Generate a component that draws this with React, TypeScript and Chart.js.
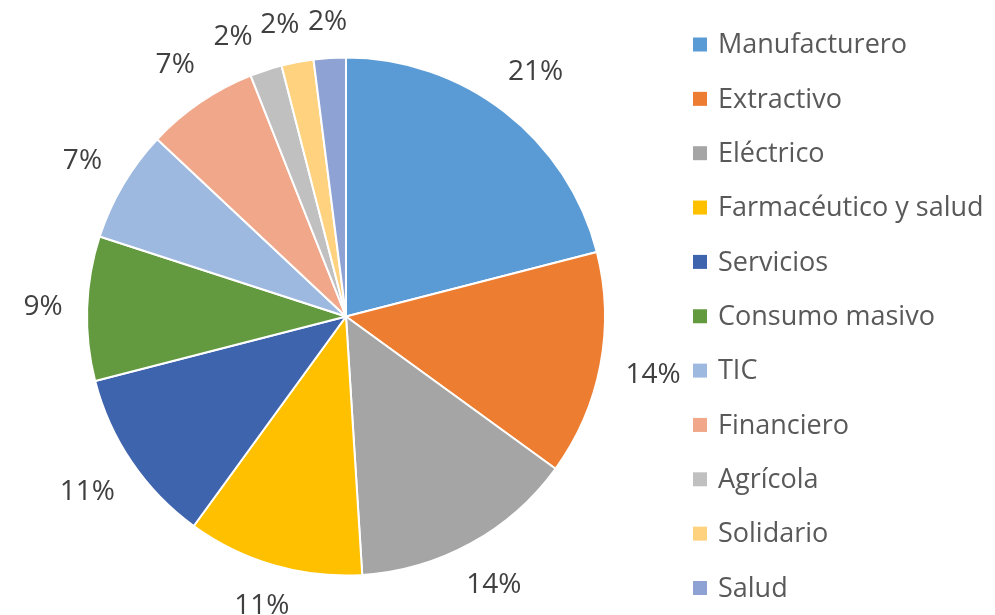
import React, { useEffect, useRef } from "react";
import { Chart, registerables } from "chart.js";

Chart.register(...registerables);

const categories = [
  "Manufacturero",
  "Extractivo",
  "Eléctrico",
  "Farmacéutico y salud",
  "Servicios",
  "Consumo masivo",
  "TIC",
  "Financiero",
  "Agrícola",
  "Solidario",
  "Salud",
];
const values = [21, 14, 14, 11, 11, 9, 7, 7, 2, 2, 2];
const colors = [
  "#5B9BD5",
  "#ED7D31",
  "#A5A5A5",
  "#FFC000",
  "#3F64AE",
  "#649A3F",
  "#9DB9E0",
  "#F1A78A",
  "#C0C0C0",
  "#FFD280",
  "#8FA2D4",
];

const FONT = '"Open Sans", sans-serif';

const labelPlugin = {
  id: "outsideLabels",
  afterDraw(chart: any) {
    const ctx = chart.ctx;
    const meta = chart.getDatasetMeta(0);
    const data = chart.data.datasets[0].data as number[];
    const total = data.reduce((a, b) => a + b, 0);
    ctx.save();
    ctx.font = `28px ${FONT}`;
    ctx.fillStyle = "#404040";
    ctx.textAlign = "center";
    ctx.textBaseline = "middle";
    const hh = 13;
    const items = meta.data.map((el: any, i: number) => {
      const p = el.getProps(["x", "y", "startAngle", "endAngle", "outerRadius"], true);
      const txt = Math.round((data[i] / total) * 100) + "%";
      const w = ctx.measureText(txt).width;
      return { p, txt, w, ang: (p.startAngle + p.endAngle) / 2, x: 0, y: 0 };
    });
    const place = (it: any) => {
      const dx = Math.cos(it.ang);
      const dy = Math.sin(it.ang);
      const hw = it.w / 2 + 2;
      const dist = it.p.outerRadius + 22 + Math.abs(dx) * hw + Math.abs(dy) * hh;
      it.x = it.p.x + dx * dist;
      it.y = it.p.y + dy * dist;
    };
    items.forEach(place);
    const overlaps = (a: any, b: any) =>
      Math.abs(a.x - b.x) < (a.w + b.w) / 2 + 7 && Math.abs(a.y - b.y) < 2 * hh + 4;
    for (let i = items.length - 2; i >= 0; i--) {
      let guard = 0;
      while (overlaps(items[i], items[i + 1]) && guard < 200) {
        items[i].ang -= Math.PI / 360;
        place(items[i]);
        guard++;
      }
    }
    items.forEach((it: any) => ctx.fillText(it.txt, it.x, it.y));
    ctx.restore();
  },
};

const legendPlugin = {
  id: "customLegend",
  afterDraw(chart: any) {
    const ctx = chart.ctx;
    const labels = chart.data.labels as string[];
    const bg = chart.data.datasets[0].backgroundColor as string[];
    const x0 = 693;
    const y0 = 44.5;
    const step = 54.35;
    ctx.save();
    ctx.font = `27px ${FONT}`;
    ctx.textBaseline = "middle";
    ctx.textAlign = "left";
    labels.forEach((lab, i) => {
      const cy = y0 + i * step;
      ctx.fillStyle = bg[i];
      ctx.fillRect(x0, cy - 7, 14, 14);
      ctx.fillStyle = "#595959";
      ctx.fillText(lab, x0 + 25, cy + 1);
    });
    ctx.restore();
  },
};

export default function App() {
  const ref = useRef<HTMLCanvasElement>(null);
  useEffect(() => {
    if (!ref.current) return;
    const chart = new Chart(ref.current, {
      type: "pie",
      data: {
        labels: categories,
        datasets: [
          {
            data: values,
            backgroundColor: colors,
            borderColor: "#FFFFFF",
            borderWidth: 2,
          },
        ],
      },
      options: {
        animation: false,
        responsive: true,
        maintainAspectRatio: false,
        layout: { padding: { left: 86, right: 389, top: 56, bottom: 38 } },
        plugins: {
          legend: { display: false },
          tooltip: { enabled: false },
        },
      },
      plugins: [labelPlugin, legendPlugin],
    });
    return () => chart.destroy();
  }, []);
  return (
    <div style={{ position: "fixed", left: 0, top: 0, width: 995, height: 615, background: "#fff" }}>
      <canvas ref={ref} />
    </div>
  );
}
